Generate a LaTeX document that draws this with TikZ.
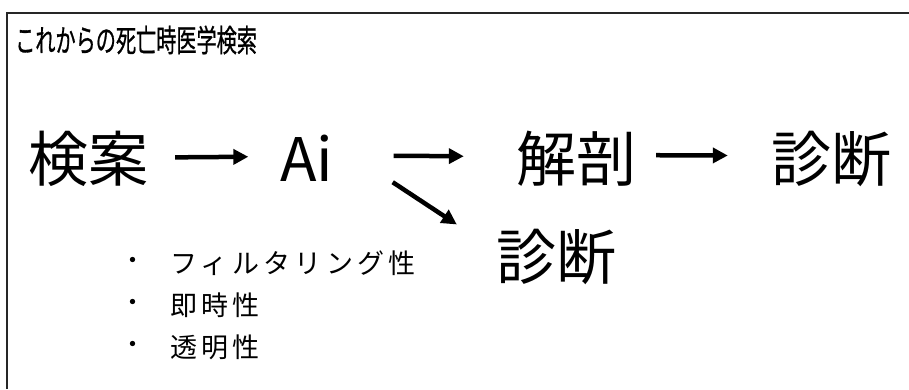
\documentclass[tikz,border=0pt]{standalone}
\usepackage{fontspec}
\usepackage{graphicx}
\setmainfont{Noto Sans CJK JP}
\newfontfamily\jpfont{Noto Sans CJK JP}
\usetikzlibrary{arrows.meta}
\tikzset{
  big/.style={font=\jpfont\fontsize{60}{60}\selectfont, inner sep=0pt, anchor=base},
  bul/.style={font=\jpfont\fontsize{27}{27}\selectfont\addfontfeature{LetterSpace=16}, inner sep=0pt, anchor=west},
  dot/.style={font=\jpfont\fontsize{25}{25}\selectfont, inner sep=0pt},
  arr/.style={line width=4.5pt, -{Triangle[length=15pt,width=15pt]}},
  frame/.style={line width=2pt, draw=black!85}
}
\begin{document}
\begin{tikzpicture}[x=1pt,y=-1pt]
\useasboundingbox (0,0) rectangle (909,389);
\draw[frame] (7,389) -- (7,13) -- (909,13);
\node[inner sep=0pt, anchor=west, font=\jpfont\fontsize{31}{31}\selectfont\addfontfeature{FakeBold=1}] (title) at (15,40) {\scalebox{0.65}[1]{これからの死亡時医学検索}};
\node[big] (kensaku) at (88,181) {検案};
\node[big] (ai) at (307,181) {Ai};
\node[big] (kaibo) at (576,181) {解剖};
\node[big] (shindan1) at (831,181) {診断};
\node[big] (shindan2) at (556,279) {診断};
\draw[arr] ([xshift=27pt,yshift=1pt]kensaku.east) -- ([xshift=-32pt,yshift=1pt]ai.west);
\draw[arr] ([xshift=60pt,yshift=2pt]ai.east) -- ([xshift=-52pt,yshift=2pt]kaibo.west);
\draw[arr] ([xshift=20pt,yshift=3pt]kaibo.east) -- ([xshift=-43pt,yshift=3pt]shindan1.west);
\draw[arr] ([xshift=59pt,yshift=-1pt]ai.south east) -- ([xshift=-39pt,yshift=4pt]shindan2.north west);
\node[dot] (d1) at (133,263) {・};
\node[dot] (d2) at (133,305) {・};
\node[dot] (d3) at (133,347) {・};
\node[bul] (b1) at (170,263) {フィルタリング性};
\node[bul] (b2) at (170,305) {即時性};
\node[bul] (b3) at (170,347) {透明性};
\end{tikzpicture}
\end{document}
